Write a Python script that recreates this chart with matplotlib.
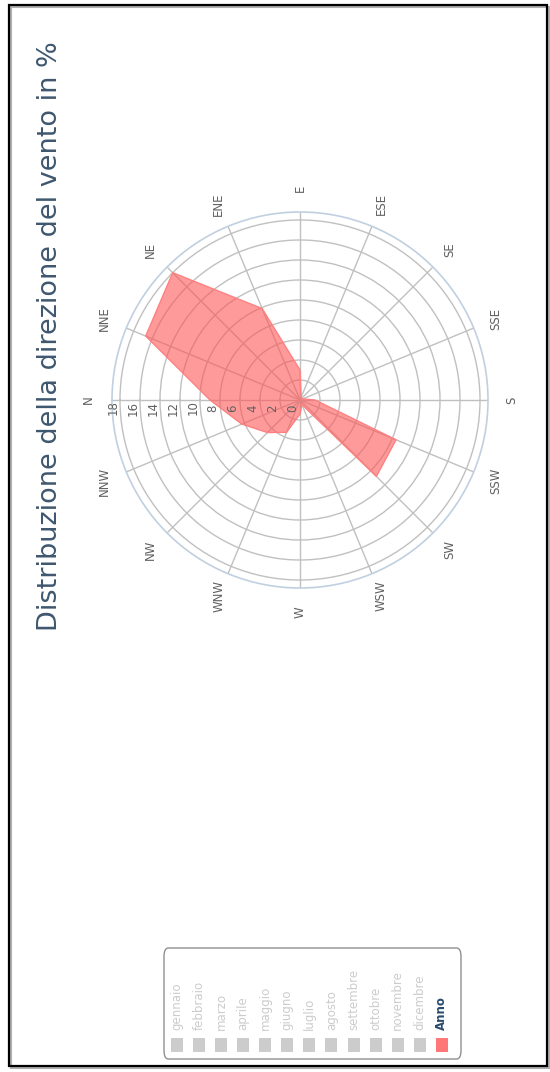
import numpy as np
import matplotlib
matplotlib.use("Agg")
import matplotlib.pyplot as plt
from matplotlib.patches import Rectangle, FancyBboxPatch
from matplotlib.transforms import ScaledTranslation

# dati (percentuale annua per direzione)
directions = ['N', 'NNE', 'NE', 'ENE', 'E', 'ESE', 'SE', 'SSE',
              'S', 'SSW', 'SW', 'WSW', 'W', 'WNW', 'NW', 'NNW']
anno = [9.0, 16.7, 18.0, 9.9, 3.0, 0.3, 0.2, 0.3,
        1.5, 10.4, 10.8, 0.5, 1.4, 3.5, 4.6, 6.3]
r_ticks = [0, 2, 4, 6, 8, 10, 12, 14, 16, 18]
months = ['gennaio', 'febbraio', 'marzo', 'aprile', 'maggio', 'giugno',
          'luglio', 'agosto', 'settembre', 'ottobre', 'novembre', 'dicembre']
series_name = 'Anno'
title = 'Distribuzione della direzione del vento in %'

W, H = 550, 1072
plt.rcParams['font.family'] = ['DejaVu Sans']
fig = plt.figure(figsize=(W / 100, H / 100), dpi=100)

# cornice
fig.patches.append(Rectangle((11 / W, 1 - 1068 / H), 538 / W, 1061 / H,
                             transform=fig.transFigure, fill=False,
                             edgecolor='#b0b0b0', linewidth=1.5))
fig.patches.append(Rectangle((9 / W, 1 - 1066 / H), 538 / W, 1061 / H,
                             transform=fig.transFigure, fill=False,
                             edgecolor='black', linewidth=1.6))

# rosa dei venti (ruotata: N a sinistra, E in alto)
cx, cy, R = 300, 400, 188
ax = fig.add_axes([(cx - R) / W, (H - cy - R) / H, 2 * R / W, 2 * R / H],
                  projection='polar')
ax.set_theta_zero_location('W')
ax.set_theta_direction(-1)
ax.set_ylim(0, 18.8)

theta = np.deg2rad(np.arange(len(directions)) * 22.5)
ax.set_xticks(theta)
ax.set_xticklabels([])
ax.set_yticks(r_ticks[1:])
ax.set_yticklabels([])
ax.grid(True, color='#c0c0c0', linewidth=1)
ax.spines['polar'].set_color('#c0d0e0')
ax.spines['polar'].set_linewidth(1.2)

tc = np.append(theta, theta[0])
vc = np.append(anno, anno[0])
ax.fill(tc, vc, facecolor='#ff5252', alpha=0.58, edgecolor='none', zorder=3)
ax.plot(tc, vc, color='#ff8080', linewidth=1, zorder=4)

for t, d in zip(theta, directions):
    ax.text(t, 21.2, d, rotation=90, ha='center', va='center',
            fontsize=8.5, color='#606060', clip_on=False)

off = ax.transData + ScaledTranslation(0, -8 / 100, fig.dpi_scale_trans)
for v in r_ticks:
    ax.text(0, v + 0.7, str(v), transform=off, rotation=90,
            ha='center', va='center', fontsize=8.5, color='#606060',
            clip_on=False)

# titolo
fig.text(50 / W, 1 - 336 / H, title, rotation=90, ha='center', va='center',
         fontsize=19.5, color='#3e576f')

# legenda
fig.patches.append(FancyBboxPatch((164 / W, 1 - 1059 / H), 297 / W, 111 / H,
                                  boxstyle='round,pad=0,rounding_size=0.008',
                                  transform=fig.transFigure, facecolor='white',
                                  edgecolor='#909090', linewidth=1))
labels = months + [series_name]
for i, lab in enumerate(labels):
    x = 176.7 + 22.1 * i
    last = lab == series_name
    fig.patches.append(Rectangle(((x - 6) / W, 1 - 1052 / H), 12 / W, 14 / H,
                                 transform=fig.transFigure,
                                 facecolor='#ff7777' if last else '#cccccc',
                                 edgecolor='none'))
    fig.text(x / W, 1 - 1030 / H, lab, rotation=90, rotation_mode='anchor',
             ha='left', va='center', fontsize=8.5,
             color='#274b6d' if last else '#cccccc',
             fontweight='bold' if last else 'normal')

fig.savefig('out.png', dpi=100)
